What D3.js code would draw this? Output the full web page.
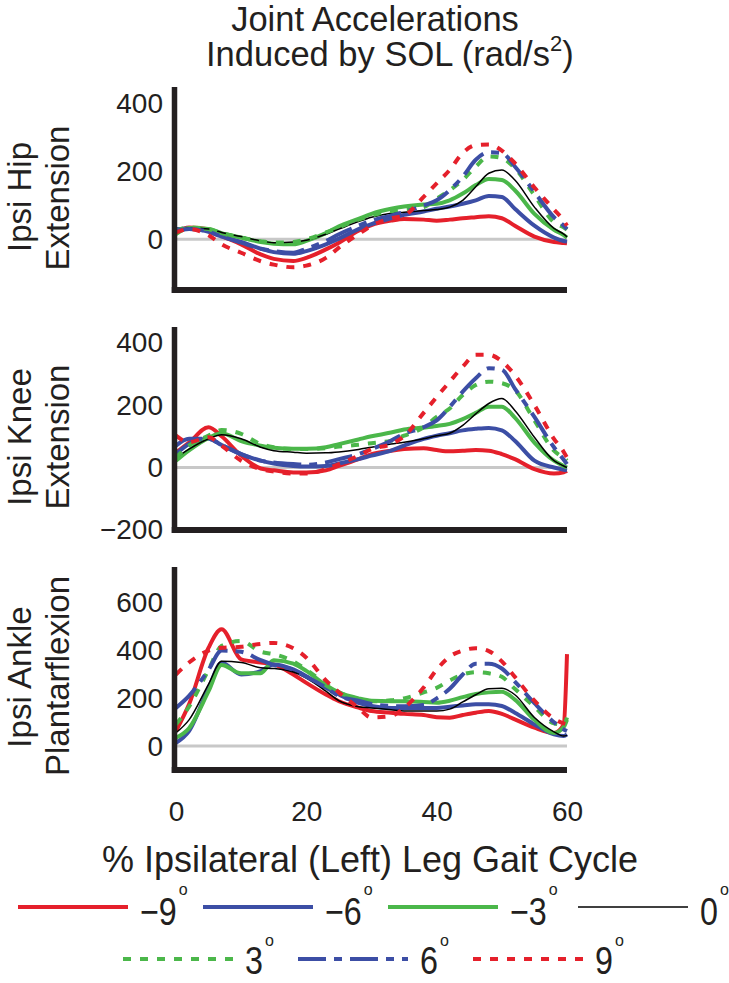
<!DOCTYPE html>
<html><head><meta charset="utf-8">
<script src="https://cdn.jsdelivr.net/npm/d3@7"></script>
<style>
html,body{margin:0;padding:0;background:#fff;}
svg{display:block;}
text{font-family:"Liberation Sans",Arial,Helvetica,sans-serif;fill:#231f20;}
</style></head><body>
<svg id="chart" width="729" height="983"></svg>
<script>
// % gait cycle sample points
const pct = [0,2,5,7,10,13,15,18,20,23,25,28,30,33,35,38,40,42,44,46,48,50,52,55,58,59.5,60];

// Ipsi Hip Extension
const hipM9 = [20,35,30,10,-15,-45,-58,-64,-55,-30,-10,25,42,55,60,58,55,58,62,65,68,62,40,8,-8,-11,-12];
const hipM6 = [30,32,22,8,-8,-28,-38,-43,-35,-15,2,30,45,62,72,82,90,97,105,115,128,125,90,40,5,-5,-7];
const hipM3 = [15,33,30,18,5,-8,-13,-15,-5,18,38,60,75,90,97,103,105,115,135,160,178,175,145,75,28,12,5];
const hip0  = [20,33,30,20,8,-5,-10,-8,-3,15,30,52,65,77,80,85,88,95,115,155,195,205,175,95,32,15,7];
const hipP3 = [25,35,30,18,5,-6,-10,-8,0,20,35,58,70,83,87,95,120,145,175,215,245,240,210,130,50,35,28];
const hipP6 = [25,30,22,8,-10,-28,-35,-40,-28,-5,15,40,55,70,80,100,115,145,185,235,257,255,215,140,65,40,30];
const hipP9 = [20,30,12,-15,-40,-65,-75,-83,-78,-55,-25,15,40,62,70,125,165,205,255,278,280,262,225,153,88,55,40];

// Ipsi Knee Extension
const kneeM9 = [48,80,129,100,38,-3,-9,-16,-16,-9,5,27,43,54,59,62,56,52,54,56,54,43,27,-5,-19,-15,-11];
const kneeM6 = [43,75,92,72,43,22,13,5,3,5,13,27,38,54,70,92,102,110,119,124,127,119,86,22,0,-7,-9];
const kneeM3 = [22,55,95,110,85,70,63,60,60,65,75,90,100,112,122,128,133,140,155,175,195,195,160,80,22,5,0];
const knee0  = [32,59,92,105,92,65,54,49,46,47,50,58,65,75,81,92,102,110,135,172,205,221,183,97,22,5,0];
const kneeP3 = [32,70,102,120,108,75,65,59,59,62,67,73,78,86,102,129,162,189,232,264,275,270,248,151,54,30,22];
const kneeP6 = [70,92,92,72,43,22,16,11,9,16,27,43,59,86,108,129,151,194,243,286,318,313,253,162,65,25,11];
const kneeP9 = [102,81,97,70,22,-5,-13,-19,-19,-5,11,38,59,75,100,175,226,275,323,361,361,340,296,200,92,50,32];

// Ipsi Ankle Plantarflexion
const ankleM9 = [63,175,412,489,363,350,342,300,265,216,188,161,147,140,135,130,121,119,130,140,147,135,112,77,55,90,385];
const ankleM6 = [14,63,244,349,300,314,342,321,293,244,216,181,168,160,160,160,160,165,170,175,175,168,140,91,49,42,49];
const ankleM3 = [35,75,230,340,305,305,360,345,315,255,225,200,190,188,188,185,182,190,205,218,225,228,195,110,55,80,110];
const ankle0  = [56,110,260,355,350,328,325,310,285,230,190,165,160,152,147,147,147,155,185,215,240,242,215,120,60,42,45];
const ankleP3 = [91,165,320,420,440,395,385,355,320,260,225,198,188,192,200,225,244,275,300,310,305,290,240,165,95,90,120];
const ankleP6 = [160,210,320,400,395,360,340,320,290,245,210,190,176,168,167,172,200,240,300,345,345,325,270,180,100,70,63];
const ankleP9 = [300,350,400,412,416,428,432,410,370,275,225,160,120,126,160,245,320,375,400,410,398,355,290,190,115,95,91];

// ticks
const hipTicks = [0,200,400];
const kneeTicks = [-200,0,200,400];
const ankleTicks = [0,200,400,600];
const pctTicks = [0,20,40,60];

const seriesLabels = ["\u22129","\u22126","\u22123","0","3","6","9"];
const seriesColors = ["#e5202b","#3c4ea5","#4bb74a","#000000","#4bb74a","#3c4ea5","#e5202b"];
const seriesDash = [null,null,null,null,"8,9","28,8,8,8","8,9"];
const seriesWidth = [4,4,4,1.5,4,4,4];

const panels = [
  {name:["Ipsi Hip","Extension"], data:[hipM9,hipM6,hipM3,hip0,hipP3,hipP6,hipP9], domain:[-150,450], range:[290,87], ticks:hipTicks, labelY:[197,198]},
  {name:["Ipsi Knee","Extension"], data:[kneeM9,kneeM6,kneeM3,knee0,kneeP3,kneeP6,kneeP9], domain:[-200,450], range:[530,327], ticks:kneeTicks, labelY:[437,437]},
  {name:["Ipsi Ankle","Plantarflexion"], data:[ankleM9,ankleM6,ankleM3,ankle0,ankleP3,ankleP6,ankleP9], domain:[-100,750], range:[770,567], ticks:ankleTicks, labelY:[677,676]}
];

const svg = d3.select("#chart");
const FONT = '"Liberation Sans",Arial,Helvetica,sans-serif';
const INK = "#231f20";
const x = d3.scaleLinear().domain([0,60]).range([176,567]);
const axisX = 174.5;

// title
svg.append("text").attr("x",375).attr("y",31).attr("text-anchor","middle").attr("font-size",34.5).text("Joint Accelerations");
const t2 = svg.append("text").attr("x",206).attr("y",66).attr("font-size",34.5);
t2.append("tspan").text("Induced by SOL (rad/s");
t2.append("tspan").attr("font-size",22).attr("dy",-15).text("2");
t2.append("tspan").attr("dy",15).text(")");

panels.forEach((p,i) => {
  const y = d3.scaleLinear().domain(p.domain).range(p.range);
  const g = svg.append("g");
  g.append("line").attr("x1",x(0)).attr("x2",x(60)).attr("y1",y(0)).attr("y2",y(0))
    .attr("stroke","#c8c8c8").attr("stroke-width",3);
  const line = d3.line().x((d,j)=>x(pct[j])).y(d=>y(d)).curve(d3.curveMonotoneX);
  p.data.forEach((vals,k) => {
    g.append("path").attr("d",line(vals)).attr("fill","none")
      .attr("stroke",seriesColors[k]).attr("stroke-width",seriesWidth[k])
      .attr("stroke-dasharray",seriesDash[k]).attr("stroke-linejoin","round");
  });
  const ay = g.append("g").attr("transform",`translate(${axisX},0)`)
    .call(d3.axisLeft(y).tickValues(p.ticks).tickSize(0).tickPadding(11.5));
  ay.attr("font-size",28).attr("font-family",FONT).attr("color",INK);
  ay.select(".domain").attr("stroke-width",5.5).attr("d",`M0,${p.range[0]+3}V${p.range[1]}`);
  const ax = g.append("g").attr("transform",`translate(0,${p.range[0]})`)
    .call(d3.axisBottom(x).tickValues(i===2 ? pctTicks : []).tickSize(0).tickPadding(31));
  ax.attr("font-size",28).attr("font-family",FONT).attr("color",INK);
  ax.select(".domain").attr("stroke-width",6).attr("d",`M${axisX-2.75},0H567`);
  // y label
  g.append("text").attr("transform",`translate(31,${p.labelY[0]}) rotate(-90)`).attr("text-anchor","middle").attr("font-size",33).text(p.name[0]);
  g.append("text").attr("transform",`translate(69,${p.labelY[1]}) rotate(-90)`).attr("text-anchor","middle").attr("font-size",33).text(p.name[1]);
});

// x label
svg.append("text").attr("x",370).attr("y",872).attr("text-anchor","middle").attr("font-size",36).text("% Ipsilateral (Left) Leg Gait Cycle");

// legend
const legendRows = [{y:907, base:925, ring:895, items:[0,1,2,3], starts:[18,203,388,578]},
                    {y:959, base:974, ring:946, items:[4,5,6], starts:[123,298,473]}];
const lg = svg.append("g");
legendRows.forEach(r => {
  r.items.forEach((k,m) => {
    const x0 = r.starts[m];
    lg.append("line").attr("x1",x0).attr("x2",x0+110).attr("y1",r.y).attr("y2",r.y)
      .attr("stroke",seriesColors[k]).attr("stroke-width",seriesWidth[k]).attr("stroke-dasharray",seriesDash[k]);
    const tx = x0+122;
    const t = lg.append("text").attr("transform",`translate(${tx},${r.base}) scale(0.85,1)`).attr("font-size",38).text(seriesLabels[k]);
    const w = t.node().getComputedTextLength()*0.85;
    lg.append("text").attr("x",tx+w+2).attr("y",r.ring).attr("font-size",16).text("o");
  });
});
</script>
</body></html>
